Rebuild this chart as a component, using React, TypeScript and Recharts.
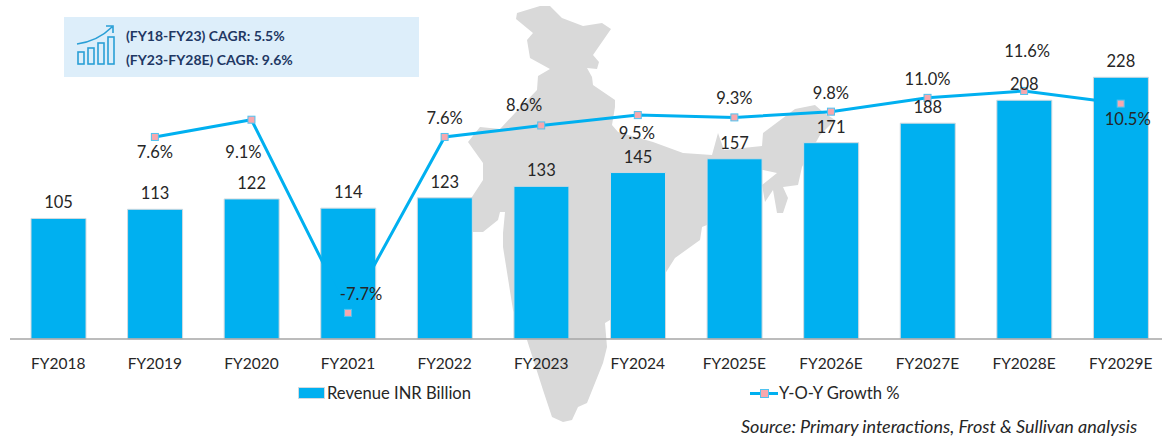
import React from 'react';
import { Bar, ComposedChart, LabelList, Line, XAxis, YAxis } from 'recharts';

const years = ['FY2018', 'FY2019', 'FY2020', 'FY2021', 'FY2022', 'FY2023', 'FY2024', 'FY2025E', 'FY2026E', 'FY2027E', 'FY2028E', 'FY2029E'];
const revenue = [105, 113, 122, 114, 123, 133, 145, 157, 171, 188, 208, 228];
const growth = [null, 7.6, 9.1, -7.7, 7.6, 8.6, 9.5, 9.3, 9.8, 11.0, 11.6, 10.5];

const chartData = years.map((year, i) => ({ year, revenue: revenue[i], growth: growth[i] }));

const FONT = 'Lato, sans-serif';
const TEXT = '#262626';
const BLUE = '#00B0F0';

// growth labels were placed by hand in the original, so each one gets its own nudge
const growthNudge: [number, number][] = [
  [0, 0], [0, 15], [-8, 32], [13, -19], [0, -19], [-17, -20],
  [-1, 18], [0, -19], [0, -19], [0, -19], [3, -40], [7, 15],
];

const indiaOutline =
  '516,19 517,13 540,6 550,6 562,18 583,26 602,23 611,29 593,55 599,62 597,69 587,68 592,77 593,85 615,100 615,107 ' +
  '612,125 618,132 653,142 683,153 712,155 718,133 724,150 762,146 763,133 795,109 815,105 823,112 835,120 820,135 ' +
  '802,167 798,185 783,187 788,198 783,213 777,213 773,190 765,202 762,185 777,173 763,170 735,172 707,225 702,227 ' +
  '700,240 675,258 663,277 637,293 610,320 605,323 607,347 603,363 587,403 578,407 572,420 563,422 552,417 543,390 ' +
  '527,340 513,310 503,247 503,233 505,212 500,212 498,220 483,232 473,232 468,228 470,200 483,180 483,163 468,142 ' +
  '480,127 500,129 515,113 537,90 538,76 550,69 530,58 527,40 533,33';

const GrowthMarker = (props: any) => {
  if (props.value == null || props.cy == null) return <g key={props.index} />;
  return (
    <rect
      key={props.index}
      x={props.cx - 3.5}
      y={props.cy - 3.5}
      width={7}
      height={7}
      fill="#F7A8AE"
      stroke="#4FC3F0"
      strokeWidth={1}
    />
  );
};

const GrowthLabel = (props: any) => {
  const { x, y, value, index } = props;
  if (value == null) return null;
  const [dx, dy] = growthNudge[index];
  return (
    <text x={x + dx} y={y + dy} textAnchor="middle" dominantBaseline="central" fontSize={16.5} fontFamily={FONT} fill={TEXT}>
      {value.toFixed(1)}%
    </text>
  );
};

const GrowthIcon = () => (
  <svg width={44} height={40} style={{ position: 'absolute', left: 75, top: 25 }} fill="none" stroke="#2A9FD6" strokeWidth={1.6}>
    <rect x={3} y={27} width={6} height={12} />
    <rect x={13} y={23} width={6} height={16} />
    <rect x={23} y={18} width={6} height={21} />
    <rect x={33} y={12} width={6} height={27} />
    <path d="M2 19 C 16 17, 28 11, 37 2 M31 1 L38 1 L38 8" />
  </svg>
);

const App: React.FC = () => {
  return (
    <div style={{ position: 'fixed', left: 0, top: 0, width: 1162, height: 437, overflow: 'hidden', background: '#fff', fontFamily: FONT }}>
      {/* India map sits behind the transparent chart */}
      <svg width={1162} height={437} style={{ position: 'absolute', left: 0, top: 0 }}>
        <polygon points={indiaOutline} fill="#D9D9D9" />
      </svg>

      <div style={{ position: 'absolute', left: 0, top: 0 }}>
        <ComposedChart width={1169} height={437} data={chartData} margin={{ top: 10, right: 0, bottom: 0, left: 10 }}>
          <XAxis
            dataKey="year"
            height={98}
            tickLine={false}
            tickMargin={13}
            interval={0}
            axisLine={{ stroke: '#A6A6A6', strokeWidth: 1.5 }}
            tick={{ fontSize: 15.5, fontFamily: FONT, fill: TEXT }}
          />
          <YAxis yAxisId="rev" hide domain={[0, 286.6]} />
          <YAxis yAxisId="pct" hide orientation="right" domain={[-9.97, 18.64]} />
          {/* line goes under the bars, its markers go over them */}
          <Line yAxisId="pct" dataKey="growth" stroke={BLUE} strokeWidth={3} dot={false} connectNulls={false} isAnimationActive={false} />
          <Bar yAxisId="rev" dataKey="revenue" fill={BLUE} stroke="#D3DADF" strokeWidth={1} barSize={55} isAnimationActive={false}>
            <LabelList dataKey="revenue" position="top" offset={10} style={{ fontSize: 16.5, fontFamily: FONT, fill: TEXT }} />
          </Bar>
          <Line yAxisId="pct" dataKey="growth" stroke="none" dot={GrowthMarker} activeDot={false} legendType="none" isAnimationActive={false}>
            <LabelList dataKey="growth" content={GrowthLabel} />
          </Line>
        </ComposedChart>
      </div>

      {/* CAGR callout */}
      <div style={{ position: 'absolute', left: 64, top: 17, width: 355, height: 60, background: '#DDEEFA' }} />
      <GrowthIcon />
      <div style={{ position: 'absolute', left: 126, top: 24, fontSize: 14, lineHeight: '24px', fontWeight: 700, color: '#1F3864', whiteSpace: 'nowrap' }}>
        <div>(FY18-FY23) CAGR: 5.5%</div>
        <div>(FY23-FY28E) CAGR: 9.6%</div>
      </div>

      {/* legend */}
      <div style={{ position: 'absolute', left: 299, top: 388, width: 25, height: 10, background: BLUE, boxShadow: '0 0 0 1px #D3DADF' }} />
      <div style={{ position: 'absolute', left: 327, top: 384, fontSize: 16.6, lineHeight: '19px', color: TEXT, whiteSpace: 'nowrap' }}>Revenue INR Billion</div>
      <div style={{ position: 'absolute', left: 750, top: 392, width: 28, height: 3, background: BLUE }} />
      <div style={{ position: 'absolute', left: 760, top: 389, width: 7, height: 7, background: '#F7A8AE', border: '1px solid #4FC3F0' }} />
      <div style={{ position: 'absolute', left: 779, top: 384, fontSize: 16.6, lineHeight: '19px', color: TEXT, whiteSpace: 'nowrap' }}>Y-O-Y Growth %</div>

      <div style={{ position: 'absolute', left: 741, top: 417, fontSize: 18, lineHeight: '19px', fontStyle: 'italic', color: TEXT, whiteSpace: 'nowrap' }}>
        Source: Primary interactions, Frost &amp; Sullivan analysis
      </div>
    </div>
  );
};

export default App;
